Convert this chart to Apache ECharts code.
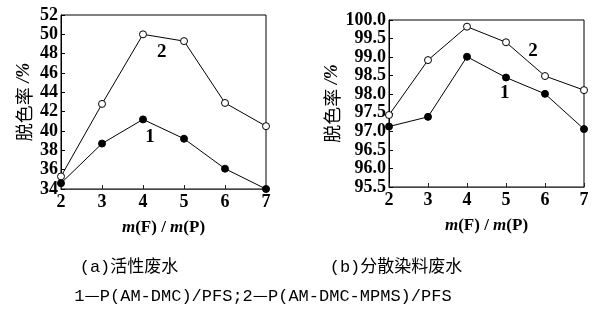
<!DOCTYPE html>
<html><head><meta charset="utf-8">
<script src="https://cdn.jsdelivr.net/npm/echarts@6/dist/echarts.min.js"></script>
<style>html,body{margin:0;padding:0;background:#fff}#c{width:597px;height:320px}</style>
</head><body><div id="c"></div>
<script>
const ratios = [2, 3, 4, 5, 6, 7];
const leftSeries1 = [34.6, 38.7, 41.2, 39.2, 36.1, 34.0];
const leftSeries2 = [35.3, 42.8, 50.0, 49.3, 42.9, 40.5];
const rightSeries1 = [97.13, 97.39, 99.01, 98.45, 98.01, 97.06];
const rightSeries2 = [97.44, 98.92, 99.82, 99.40, 98.49, 98.11];
const leftYTicks = [34, 52, 2];
const rightYTicks = [95.5, 100.0, 0.5];
const yName = '脱色率{s| /%}';
const titleA = '(a)活性废水';
const titleB = '(b)分散染料废水';
const legendParts = ['1', '—', 'P(AM-DMC)/PFS;2', '—', 'P(AM-DMC-MPMS)/PFS'];

const serif = '"Liberation Serif","DejaVu Serif",serif';
const cjk = '"Noto Sans CJK SC",sans-serif';
const mono = '"Liberation Mono","Noto Sans CJK SC",monospace';
const chart = echarts.init(document.getElementById('c'));

function pair(xs, ys) { return xs.map((x, i) => [x, ys[i]]); }
function xAxis(gi) {
  return {
    type: 'value', gridIndex: gi, min: 2, max: 7, interval: 1,
    axisLine: { lineStyle: { color: '#444', width: 1.2 } },
    axisTick: { inside: true, length: 4, lineStyle: { color: '#222' } },
    axisLabel: { color: '#000', fontFamily: serif, fontWeight: 'bold', fontSize: 18, margin: 4 },
    splitLine: { show: false },
    name: '{i|m}(F) / {i|m}(P)', nameLocation: 'middle', nameGap: 30,
    nameTextStyle: { color: '#000', fontFamily: serif, fontWeight: 'bold', fontSize: 17,
      rich: { i: { fontStyle: 'italic', fontFamily: serif, fontWeight: 'bold', fontSize: 17, color: '#000' } } }
  };
}
function yAxis(gi, t, dec, gap) {
  return {
    type: 'value', gridIndex: gi, min: t[0], max: t[1], interval: t[2],
    axisLine: { show: true, lineStyle: { color: '#000', width: 1 } },
    axisTick: { inside: true, length: 4, lineStyle: { color: '#000' } },
    axisLabel: { color: '#000', fontFamily: serif, fontWeight: 'bold', fontSize: 18, margin: 3,
      formatter: v => v.toFixed(dec) },
    splitLine: { show: false },
    name: yName, nameLocation: 'middle', nameGap: gap, nameRotate: 90,
    nameTextStyle: { color: '#000', fontFamily: cjk, fontSize: 18,
      rich: { s: { fontFamily: serif, fontStyle: 'italic', fontWeight: 'bold', fontSize: 18, color: '#000' } } }
  };
}
function line(name, xi, data, filled, lab, coord) {
  return {
    name, type: 'line', xAxisIndex: xi, yAxisIndex: xi, data,
    symbol: 'circle', symbolSize: 7,
    lineStyle: { color: '#000', width: 1 },
    itemStyle: { color: filled ? '#000' : '#fff', borderColor: '#000', borderWidth: 1 },
    clip: false, z: filled ? 3 : 2,
    markPoint: {
      symbol: 'circle', symbolSize: 0, silent: true,
      label: { show: true, formatter: lab, color: '#000', fontFamily: serif, fontWeight: 'bold', fontSize: 19 },
      data: [{ coord }]
    }
  };
}
const capStyle = { fontFamily: mono, fontWeight: 'normal', fontSize: 17, color: '#000', lineHeight: 22,
  rich: {
    t: { fontFamily: mono, fontSize: 17, color: '#000', lineHeight: 22, verticalAlign: 'middle' },
    d: { fontFamily: cjk, fontSize: 17, color: '#000', lineHeight: 22, verticalAlign: 'middle', padding: [0, 0, 3, 0] }
  } };
const legendRich = legendParts.map(p => p === '—' ? '{d|—}' : '{t|' + p + '}').join('');

chart.setOption({
  animation: false,
  backgroundColor: '#fff',
  title: [
    { text: titleA, left: 124, top: 251, textAlign: 'center', textStyle: capStyle },
    { text: titleB, left: 391, top: 251, textAlign: 'center', textStyle: capStyle },
    { text: legendRich, left: 258, top: 280, textAlign: 'center', textStyle: capStyle }
  ],
  grid: [
    { left: 61, right: 331, top: 15, bottom: 131, show: true, borderColor: '#000', borderWidth: 1, backgroundColor: 'transparent' },
    { left: 389, right: 13, top: 20, bottom: 133, show: true, borderColor: '#000', borderWidth: 1, backgroundColor: 'transparent' }
  ],
  xAxis: [xAxis(0), xAxis(1)],
  yAxis: [yAxis(0, leftYTicks, 0, 28), yAxis(1, rightYTicks, 1, 48)],
  series: [
    line('a1', 0, pair(ratios, leftSeries1), true, '1', [4.17, 39.4]),
    line('a2', 0, pair(ratios, leftSeries2), false, '2', [4.46, 48.2]),
    line('b1', 1, pair(ratios, rightSeries1), true, '1', [4.97, 98.03]),
    line('b2', 1, pair(ratios, rightSeries2), false, '2', [5.69, 99.17])
  ]
});
</script></body></html>
